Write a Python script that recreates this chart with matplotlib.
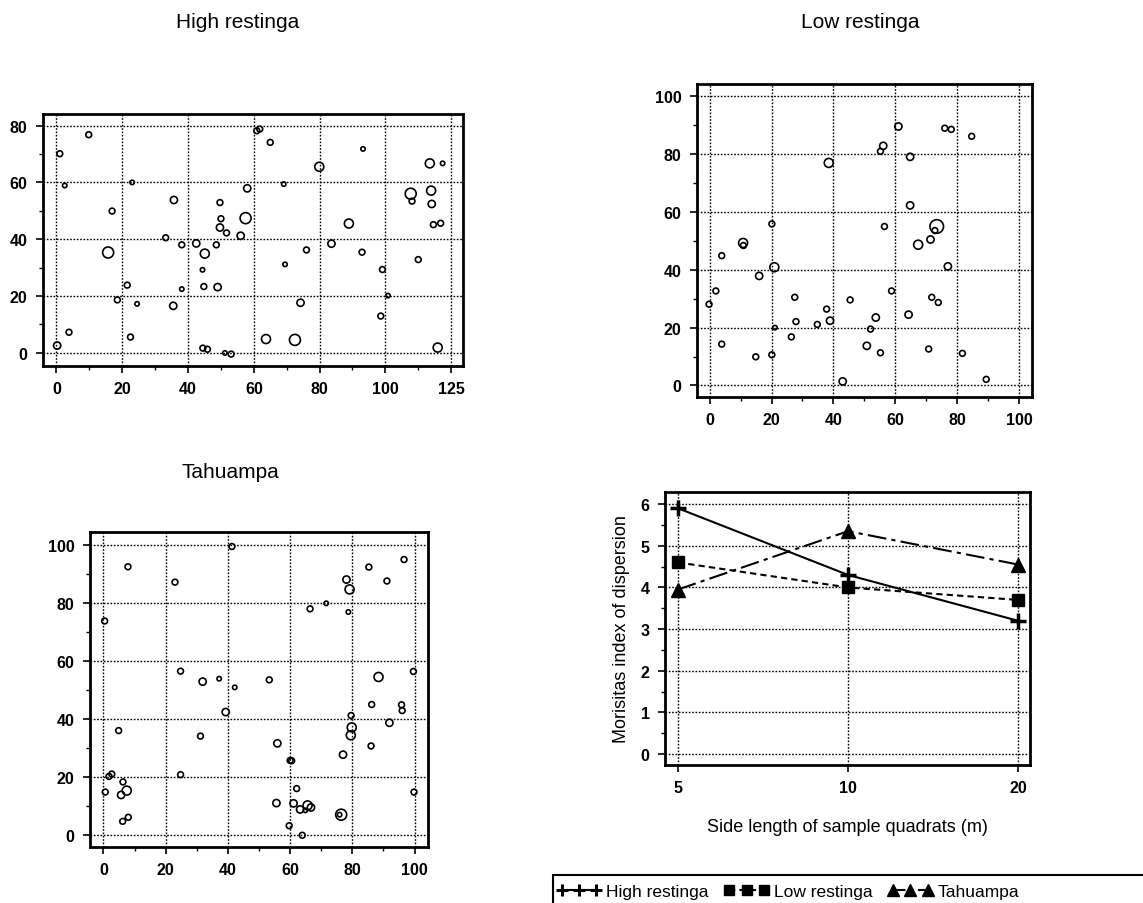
import matplotlib
matplotlib.use("Agg")
import matplotlib.pyplot as plt
from matplotlib.ticker import MultipleLocator, FixedLocator
from matplotlib.lines import Line2D
from matplotlib.patches import Rectangle

plt.rcParams['font.family'] = ['Liberation Sans', 'DejaVu Sans']

# --- tree maps: x (m), y (m), size class (1 = smallest ... 6 = largest) ---
high_x = [9.8, 1.0, 2.5, 23, 16.9, 35.7, 15.7, 33.2, 38.1, 42.5, 45.1, 48.6, 49.7, 50, 49.7,
          51.7, 56, 57.5, 58, 60.9, 61.8, 65, 69.1, 79.9, 69.5, 76, 83.6, 88.9, 93.2, 92.9,
          99.1, 110, 100.8, 98.6, 113.5, 117.4, 107.7, 108.1, 113.9, 114.1, 114.6, 116.8,
          21.5, 18.5, 24.5, 38.1, 35.5, 44.4, 44.8, 49, 74.2, 3.8, 0.2, 22.5, 44.5, 45.9,
          51.2, 53.1, 63.7, 72.5, 115.9]
high_y = [76.8, 70.1, 58.9, 60, 49.9, 53.8, 35.3, 40.5, 38, 38.5, 34.9, 38, 52.9, 47.2, 44.1,
          42.2, 41.2, 47.4, 57.9, 78.2, 78.8, 74.1, 59.4, 65.5, 31.1, 36.2, 38.4, 45.5, 71.8, 35.4,
          29.3, 32.8, 20.1, 12.9, 66.7, 66.7, 56, 53.4, 57.1, 52.4, 45.1, 45.6,
          23.8, 18.6, 17.2, 22.4, 16.5, 29.2, 23.3, 23.1, 17.6, 7.2, 2.5, 5.5, 1.6, 1.2,
          -0.1, -0.5, 4.8, 4.5, 1.8]
high_size = [2, 2, 1, 1, 2, 3, 5, 2, 2, 3, 4, 2, 2, 2, 3,
             2, 3, 5, 3, 2, 2, 2, 1, 4, 1, 2, 3, 4, 1, 2,
             2, 2, 1, 2, 4, 1, 5, 2, 4, 3, 2, 2,
             2, 2, 1, 1, 3, 1, 2, 3, 3, 2, 3, 2, 2, 2,
             1, 2, 4, 5, 4]

low_x = [61, 76, 78.1, 84.7, 56.1, 55.2, 64.8, 38.5, 64.8, 20.1, 56.5, 73.4, 72.8, 71.4, 67.4,
         10.8, 10.9, 3.9, 77, 20.9, 16, 2.0, 58.8, 27.5, 45.4, 71.8, 73.9, -0.2, 37.8, 27.9,
         38.9, 53.7, 64.3, 34.8, 21.1, 52, 26.4, 3.9, 50.8, 70.8, 14.9, 20.1, 55.2, 81.7,
         43, 89.4]
low_y = [89.6, 89, 88.6, 86.2, 82.9, 81, 79.1, 77, 62.3, 55.9, 55, 55, 53.6, 50.5, 48.7,
         49.3, 48.4, 44.9, 41.2, 40.9, 37.9, 32.7, 32.7, 30.5, 29.6, 30.5, 28.7, 28.1, 26.4, 22.1,
         22.4, 23.5, 24.5, 21.1, 20, 19.5, 16.8, 14.3, 13.7, 12.6, 9.9, 10.6, 11.3, 11.1,
         1.4, 2.1]
low_size = [3, 2, 2, 2, 3, 2, 3, 4, 3, 2, 2, 6, 2, 3, 4,
            4, 2, 2, 3, 4, 3, 2, 2, 2, 2, 2, 2, 2, 2, 2,
            3, 3, 3, 2, 1, 2, 2, 2, 3, 2, 2, 2, 2, 2,
            3, 2]

tah_x = [41.3, 7.9, 23, 85.3, 96.6, 78.1, 79.1, 91.1, 66.4, 71.6, 78.7, 0.4, 24.8, 31.9, 37.2,
         42.2, 53.3, 88.4, 99.6, 39.3, 86.2, 95.8, 96, 79.6, 79.8, 79.5, 91.9, 4.9, 31.2, 55.9,
         86, 77, 60, 60.5, 2.7, 1.8, 24.8, 6.3, 7.5, 0.6, 5.7, 62.1, 99.8, 55.6, 61.1,
         63.2, 65.6, 66.7, 64.9, 76.4, 75.9, 6.2, 8, 59.7, 63.9]
tah_y = [99.4, 92.4, 87.1, 92.3, 94.9, 88, 84.6, 87.5, 77.9, 79.8, 76.8, 73.7, 56.4, 52.8, 53.8,
         50.8, 53.4, 54.4, 56.3, 42.3, 44.9, 44.8, 42.8, 41.1, 37, 34.3, 38.6, 35.9, 34, 31.5,
         30.6, 27.6, 25.6, 25.5, 20.9, 20.1, 20.7, 18.2, 15.2, 14.7, 13.7, 15.9, 14.7, 10.9, 10.8,
         8.7, 10.1, 9.4, 8.4, 6.9, 6.9, 4.6, 6, 3.1, -0.2]
tah_size = [2, 2, 2, 2, 2, 3, 4, 2, 2, 1, 1, 2, 2, 3, 1,
            1, 2, 4, 2, 3, 2, 2, 2, 2, 4, 4, 3, 2, 2, 3,
            2, 3, 2, 2, 2, 2, 2, 2, 4, 2, 3, 2, 2, 3, 3,
            3, 4, 3, 1, 5, 1, 2, 2, 2, 2]

# --- Morisita index vs quadrat size ---
quadrat_sizes = ['5', '10', '20']
morisita_high = [5.9, 4.3, 3.2]
morisita_low = [4.6, 4.0, 3.7]
morisita_tah = [3.95, 5.35, 4.55]

W, H = 1143, 904


def px_box(left, top, right, bottom):
    return [left / W, 1 - bottom / H, (right - left) / W, (bottom - top) / H]


def marker_area(size_class):
    # radius in pixels for each class -> scatter area in points^2
    radius = {1: 2.2, 2: 2.9, 3: 3.6, 4: 4.5, 5: 5.5, 6: 6.8}[size_class]
    d_pt = 2 * radius * 72 / 100
    return d_pt ** 2


def style_axes(ax):
    for sp in ax.spines.values():
        sp.set_linewidth(2)
    ax.grid(True, which='major', linestyle=(0, (1.2, 1.2)), color='black', linewidth=1.0)
    ax.set_axisbelow(True)
    ax.tick_params(which='major', direction='out', length=5, width=1.2, labelsize=11.5, pad=6)
    ax.tick_params(which='minor', direction='out', length=3, width=1)
    for lab in ax.get_xticklabels() + ax.get_yticklabels():
        lab.set_fontweight('bold')


def tree_map(ax, xs, ys, sizes, xlim, ylim):
    ax.scatter(xs, ys, s=[marker_area(c) for c in sizes], facecolors='none',
               edgecolors='black', linewidths=1.2, zorder=3, clip_on=False)
    ax.set_xlim(*xlim)
    ax.set_ylim(*ylim)
    ax.xaxis.set_minor_locator(MultipleLocator(10))
    ax.yaxis.set_minor_locator(MultipleLocator(10))


fig = plt.figure(figsize=(W / 100, H / 100), dpi=100)

# High restinga
ax1 = fig.add_axes(px_box(43, 115, 463, 367))
tree_map(ax1, high_x, high_y, high_size, (-4.1, 123.6), (-4.7, 84.1))
ax1.set_xticks([0, 20, 40, 60, 80, 100, 120])
ax1.set_xticklabels(['0', '20', '40', '60', '80', '100', '125'])
ax1.set_yticks([0, 20, 40, 60, 80])
style_axes(ax1)

# Low restinga
ax2 = fig.add_axes(px_box(697, 85, 1032, 398))
tree_map(ax2, low_x, low_y, low_size, (-4.1, 104.2), (-4.0, 104.3))
ax2.set_xticks([0, 20, 40, 60, 80, 100])
ax2.set_yticks([0, 20, 40, 60, 80, 100])
style_axes(ax2)

# Tahuampa
ax3 = fig.add_axes(px_box(90, 533, 428, 848))
tree_map(ax3, tah_x, tah_y, tah_size, (-4.3, 104.3), (-4.25, 104.4))
ax3.set_xticks([0, 20, 40, 60, 80, 100])
ax3.set_yticks([0, 20, 40, 60, 80, 100])
style_axes(ax3)

fig.text(238 / W, 1 - 22 / H, 'High restinga', ha='center', va='center', fontsize=15)
fig.text(860 / W, 1 - 22 / H, 'Low restinga', ha='center', va='center', fontsize=15)
fig.text(230 / W, 1 - 472 / H, 'Tahuampa', ha='center', va='center', fontsize=15)

# Morisita index plot
ax4 = fig.add_axes(px_box(665, 493, 1030, 766))
pos = list(range(len(quadrat_sizes)))
ax4.plot(pos, morisita_high, color='black', linewidth=1.5, zorder=3)
ax4.plot(pos, morisita_high, linestyle='none', marker='+', markersize=12,
         markeredgewidth=2.5, color='black', zorder=4)
ax4.plot(pos, morisita_low, color='black', linewidth=1.5, linestyle=(0, (3, 2)),
         marker='s', markersize=9, zorder=3)
ax4.plot(pos, morisita_tah, color='black', linewidth=1.5, linestyle=(0, (9, 2.5, 2, 2.5)),
         marker='^', markersize=10, zorder=3)
ax4.set_xlim(-0.076, 2.07)
ax4.set_ylim(-0.26, 6.29)
ax4.xaxis.set_major_locator(FixedLocator(pos))
ax4.set_xticklabels(quadrat_sizes)
ax4.yaxis.set_major_locator(MultipleLocator(1))
ax4.yaxis.set_minor_locator(MultipleLocator(0.5))
style_axes(ax4)
ax4.set_xlabel('Side length of sample quadrats (m)', fontsize=13, labelpad=16)
ax4.set_ylabel('Morisitas index of dispersion', fontsize=13, labelpad=8)

# legend, boxed and running off the page edge like the scan
handles = [
    Line2D([], [], color='black', linewidth=1.5, marker='+', markersize=9,
           markeredgewidth=2.2),
    Line2D([], [], color='black', linewidth=1.5, linestyle=(0, (3, 2)), marker='s',
           markersize=7),
    Line2D([], [], color='black', linewidth=1.5, linestyle=(0, (6, 2, 2, 2)), marker='^',
           markersize=8),
]
fig.legend(handles, ['High restinga', 'Low restinga', 'Tahuampa'], ncol=3,
           loc='center left', bbox_to_anchor=(553 / W, 1 - 892 / H), frameon=False,
           numpoints=3, handlelength=2.6, handletextpad=0.25, columnspacing=0.9,
           fontsize=12.5, borderaxespad=0, borderpad=0.2)
fig.patches.append(Rectangle((553 / W, -0.02), 0.6, (904 - 876) / H + 0.02,
                             transform=fig.transFigure, fill=False, linewidth=1.5,
                             edgecolor='black'))

fig.savefig('out.png', dpi=100)
